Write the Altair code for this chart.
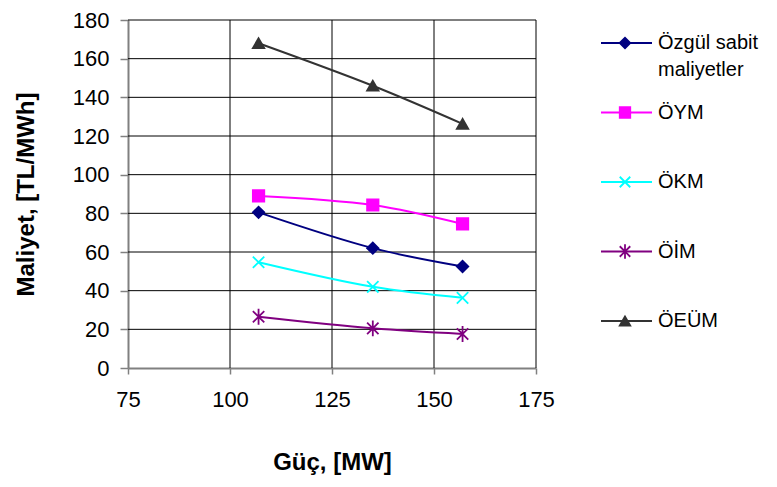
import altair as alt
import pandas as pd

# ---- data ----
guc = [107, 135, 157]
series_names = ["Özgül sabit maliyetler", "ÖYM", "ÖKM", "ÖİM", "ÖEÜM"]
ozgul = [80.5, 62.0, 52.5]
oym = [89.0, 84.3, 74.5]
okm = [54.7, 42.0, 36.3]
oim = [26.5, 20.5, 17.6]
oeum = [168.0, 146.0, 126.3]
legend_labels = [["Özgül sabit", "maliyetler"], ["ÖYM"], ["ÖKM"], ["ÖİM"], ["ÖEÜM"]]
x_ticks = [75, 100, 125, 150, 175]
y_ticks = [0, 20, 40, 60, 80, 100, 120, 140, 160, 180]

colors = ["#000080", "#FF00FF", "#00FFFF", "#800080", "#333333"]
shapes = ["diamond", "square", "M-1,-1L1,1M-1,1L1,-1",
          "M-1,-1L1,1M-1,1L1,-1M0,-1.4L0,1.4", "triangle-up"]

values = [ozgul, oym, okm, oim, oeum]
rows = []
for name, vals in zip(series_names, values):
    for x, v in zip(guc, vals):
        rows.append({"series": name, "guc": x, "maliyet": v})
df = pd.DataFrame(rows)

xgrid_df = pd.DataFrame({"guc": x_ticks[1:]})
ygrid_df = pd.DataFrame({"maliyet": y_ticks[1:]})

# legend layout (pixels relative to plot origin)
leg_rows = []
txt_rows = []
for i, (name, lab) in enumerate(zip(series_names, legend_labels)):
    ly = 23 + 69.5 * i
    leg_rows.append({"series": name, "ly": ly})
    for j, line in enumerate(lab):
        txt_rows.append({"series": name, "ty": ly + 27 * j, "txt": line})
leg_df = pd.DataFrame(leg_rows)
txt_df = pd.DataFrame(txt_rows)

FONT = "Liberation Sans"
color_scale = alt.Scale(domain=series_names, range=colors)
shape_scale = alt.Scale(domain=series_names, range=shapes)

x_axis = alt.Axis(values=x_ticks, title="Güç, [MW]", tickSize=6,
                  labelPadding=15, titleY=94, titleBaseline="middle",
                  titleAlign="center", grid=False, labelOverlap=False,
                  labelFlush=False, labelBound=False)
y_axis = alt.Axis(values=y_ticks, title="Maliyet, [TL/MWh]", tickSize=8,
                  labelPadding=11, titleX=-102, titleY=174,
                  titleBaseline="middle", titleAlign="center", grid=False,
                  labelOverlap=False, labelFlush=False, labelBound=False)
x_scale = alt.Scale(domain=[75, 175], nice=False, zero=False)
y_scale = alt.Scale(domain=[0, 180], nice=False)

def xe():
    return alt.X("guc:Q", scale=x_scale, axis=x_axis)

def ye():
    return alt.Y("maliyet:Q", scale=y_scale, axis=y_axis)

vgrid = alt.Chart(xgrid_df).mark_rule(color="black", strokeWidth=1).encode(
    x=xe(), y=alt.value(0), y2=alt.value(348),
)
hgrid = alt.Chart(ygrid_df).mark_rule(color="black", strokeWidth=1).encode(
    y=ye(), x=alt.value(0), x2=alt.value(408),
)

lines = alt.Chart(df).mark_line(strokeWidth=2, interpolate="catmull-rom").encode(
    x=xe(), y=ye(),
    color=alt.Color("series:N", scale=color_scale, legend=None),
    order=alt.Order("guc:Q"),
    detail="series:N",
)

points = alt.Chart(df).mark_point(size=130, strokeWidth=1.8, opacity=1).encode(
    x=xe(), y=ye(),
    shape=alt.Shape("series:N", scale=shape_scale, legend=None),
    fill=alt.Fill("series:N", scale=color_scale, legend=None),
    stroke=alt.Stroke("series:N", scale=color_scale, legend=None),
)

leg_line = alt.Chart(leg_df).mark_rule(strokeWidth=2).encode(
    x=alt.value(473), x2=alt.value(524),
    y=alt.Y("ly:Q", scale=None, axis=None),
    color=alt.Color("series:N", scale=color_scale, legend=None),
)
leg_pt = alt.Chart(leg_df).mark_point(size=110, strokeWidth=1.8, opacity=1).encode(
    x=alt.value(497),
    y=alt.Y("ly:Q", scale=None, axis=None),
    shape=alt.Shape("series:N", scale=shape_scale, legend=None),
    fill=alt.Fill("series:N", scale=color_scale, legend=None),
    stroke=alt.Stroke("series:N", scale=color_scale, legend=None),
)
leg_txt = alt.Chart(txt_df).mark_text(align="left", baseline="middle", font=FONT,
                                      fontSize=20, color="black").encode(
    x=alt.value(530),
    y=alt.Y("ty:Q", scale=None, axis=None),
    text="txt:N",
)

chart = alt.layer(vgrid, hgrid, lines, points, leg_line, leg_pt, leg_txt).properties(
    width=408, height=348,
    autosize=alt.AutoSizeParams(type="none"),
    padding={"left": 128, "top": 20, "right": 241, "bottom": 119},
    background="white",
).configure_view(stroke=None).configure_axis(
    domainColor="#808080", domainWidth=2,
    tickColor="#808080", tickWidth=1.5,
    labelFont=FONT, labelFontSize=22, labelColor="black",
    titleFont=FONT, titleFontSize=24, titleFontWeight="bold", titleColor="black",
)

chart.save("out.html", embed_options={"renderer": "svg", "actions": False})
